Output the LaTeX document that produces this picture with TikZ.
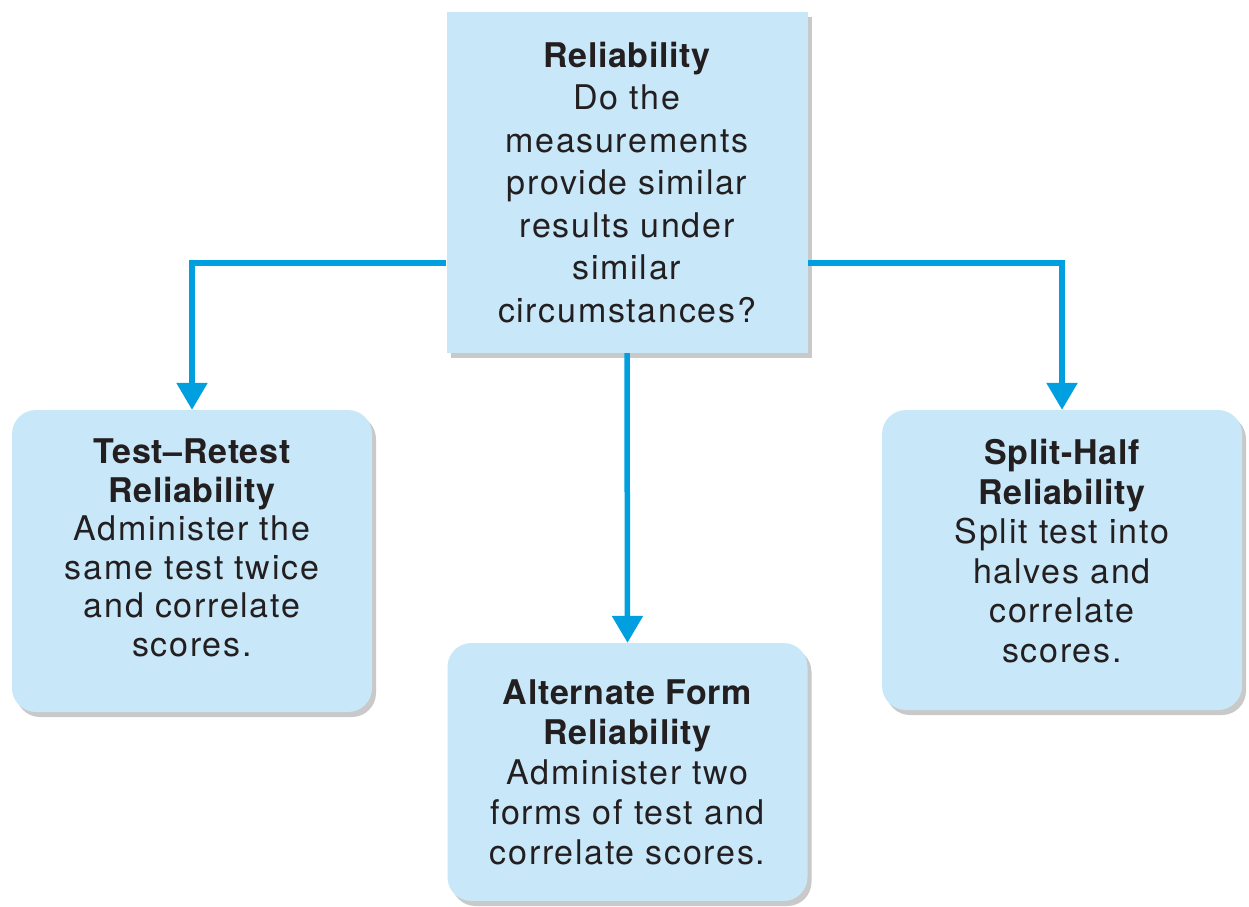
\documentclass[tikz,border=0pt]{standalone}
\usepackage{fontspec}
\setmainfont{TeX Gyre Heros}
\newfontfamily\lightfont[LetterSpace=5]{TeX Gyre Heros}
\newfontfamily\titlefont[LetterSpace=2]{TeX Gyre Heros}
\usetikzlibrary{arrows.meta,shadows}
\definecolor{linkblue}{RGB}{0,160,224}
\definecolor{boxblue}{RGB}{200,232,249}
\definecolor{inkgray}{RGB}{35,31,32}
\tikzset{
  boxbase/.style={fill=boxblue, draw=none, inner sep=0pt,
    drop shadow={shadow xshift=4pt, shadow yshift=-5pt, opacity=0.35, fill=black!60}},
  topbox/.style={boxbase, minimum width=361pt, minimum height=341pt},
  roundbox/.style={boxbase, rounded corners=24pt, minimum width=360pt},
  txt/.style={align=center, text=inkgray, inner sep=0pt},
  conn/.style={draw=linkblue, line width=5.5pt},
  arr/.style={conn, -{Triangle[width=30pt,length=27pt]}, shorten >=0pt},
}
\newcommand{\ttl}[1]{{\titlefont\bfseries #1}}
\begin{document}
\begin{tikzpicture}[x=1pt,y=-1pt]
\useasboundingbox (0,0) rectangle (1249,906);
\fill[white] (0,0) rectangle (1249,906);

% boxes
\node[topbox] (top) at (627,182.5) {};
\node[roundbox, minimum height=302pt] (left) at (192,561) {};
\node[roundbox, minimum height=258pt] (mid) at (627.5,772) {};
\node[roundbox, minimum height=300pt] (right) at (1062,560) {};

% texts
\node[txt, font=\fontsize{34}{42.5}\selectfont] (toptext) at (top.center)
  {\ttl{Reliability}\\ \lightfont Do the\\ \lightfont measurements\\ \lightfont provide similar\\ \lightfont results under\\ \lightfont similar\\ \lightfont circumstances?};
\node[txt, font=\fontsize{34}{38.5}\selectfont] (lefttext) at ([yshift=13pt]left.center)
  {\ttl{Test\textendash Retest}\\ \ttl{Reliability}\\ \lightfont Administer the\\ \lightfont same test twice\\ \lightfont and correlate\\ \lightfont scores.};
\node[txt, font=\fontsize{34}{40}\selectfont] (midtext) at (mid.center)
  {\ttl{Alternate Form}\\ \ttl{Reliability}\\ \lightfont Administer two\\ \lightfont forms of test and\\ \lightfont correlate scores.};
\node[txt, font=\fontsize{34}{39.5}\selectfont] (righttext) at ([yshift=9pt]right.center)
  {\ttl{Split-Half}\\ \ttl{Reliability}\\ \lightfont Split test into\\ \lightfont halves and\\ \lightfont correlate\\ \lightfont scores.};

% connectors
\coordinate (jl) at (192,263);
\coordinate (jr) at (1062,263);
\draw[arr] (top.west |- jl) -- (jl) -- (left.north);
\draw[arr] (top.east |- jr) -- (jr) -- (right.north);
\draw[arr] (top.south) -- (mid.north);
\end{tikzpicture}
\end{document}
